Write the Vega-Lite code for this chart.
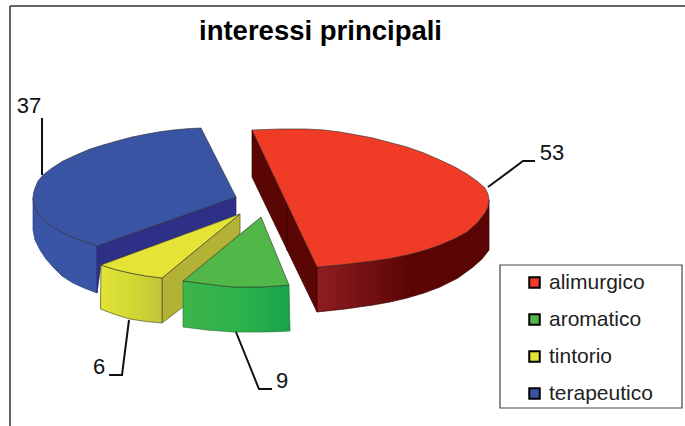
{
"$schema":"https://vega.github.io/schema/vega-lite/v6.json",
"width":685,"height":426,"padding":0,"autosize":"none","background":"white",
"title":{"text":"interessi principali","font":"Liberation Sans","fontSize":27.5,"fontWeight":"bold","color":"#000","anchor":"middle","offset":-45,"dx":-22},
"config":{"view":{"stroke":null},"font":"Liberation Sans"},
"datasets":{
"riepilogo":[
{"interesse":"alimurgico","valore":53,"lx":552,"ly":160},
{"interesse":"aromatico","valore":9,"lx":282,"ly":388},
{"interesse":"tintorio","valore":6,"lx":99,"ly":374},
{"interesse":"terapeutico","valore":37,"lx":29,"ly":113}],
"guide":[
{"interesse":"alimurgico","o":1,"gx":488,"gy":187},{"interesse":"alimurgico","o":2,"gx":523,"gy":161},{"interesse":"alimurgico","o":3,"gx":535,"gy":161},
{"interesse":"aromatico","o":1,"gx":236,"gy":332},{"interesse":"aromatico","o":2,"gx":259,"gy":389},{"interesse":"aromatico","o":3,"gx":272,"gy":389},
{"interesse":"tintorio","o":1,"gx":129,"gy":320},{"interesse":"tintorio","o":2,"gx":122,"gy":375},{"interesse":"tintorio","o":3,"gx":109,"gy":375},
{"interesse":"terapeutico","o":1,"gx":42,"gy":175},{"interesse":"terapeutico","o":2,"gx":42,"gy":118}],
"facce":[
{"f":"blu_lato","o":1,"x":33,"y":198},{"f":"blu_lato","o":2,"x":34,"y":205},{"f":"blu_lato","o":3,"x":37,"y":212},{"f":"blu_lato","o":4,"x":43,"y":219},{"f":"blu_lato","o":5,"x":50,"y":225},{"f":"blu_lato","o":6,"x":58,"y":230},{"f":"blu_lato","o":7,"x":67,"y":235},{"f":"blu_lato","o":8,"x":82,"y":241},{"f":"blu_lato","o":9,"x":97,"y":246},{"f":"blu_lato","o":10,"x":97,"y":293},{"f":"blu_lato","o":11,"x":84,"y":288},{"f":"blu_lato","o":12,"x":73,"y":283},{"f":"blu_lato","o":13,"x":62,"y":276},{"f":"blu_lato","o":14,"x":53,"y":267},{"f":"blu_lato","o":15,"x":46,"y":259},{"f":"blu_lato","o":16,"x":40,"y":250},{"f":"blu_lato","o":17,"x":35,"y":240},{"f":"blu_lato","o":18,"x":33,"y":230},
{"f":"blu_int","o":1,"x":97,"y":246},{"f":"blu_int","o":2,"x":236,"y":197},{"f":"blu_int","o":3,"x":236,"y":215},{"f":"blu_int","o":4,"x":101,"y":265},{"f":"blu_int","o":5,"x":97,"y":293},
{"f":"gia_lato","o":1,"x":162,"y":278},{"f":"gia_lato","o":2,"x":240,"y":214},{"f":"gia_lato","o":3,"x":240,"y":233},{"f":"gia_lato","o":4,"x":183,"y":307},{"f":"gia_lato","o":5,"x":162,"y":323},
{"f":"gia_fronte","o":1,"x":101,"y":265},{"f":"gia_fronte","o":2,"x":115,"y":269.5},{"f":"gia_fronte","o":3,"x":130,"y":273},{"f":"gia_fronte","o":4,"x":146,"y":276},{"f":"gia_fronte","o":5,"x":162,"y":278},{"f":"gia_fronte","o":6,"x":162,"y":323},{"f":"gia_fronte","o":7,"x":146,"y":321.5},{"f":"gia_fronte","o":8,"x":130,"y":319},{"f":"gia_fronte","o":9,"x":115,"y":314.5},{"f":"gia_fronte","o":10,"x":100.5,"y":309},
{"f":"ver_fronte","o":1,"x":183,"y":281},{"f":"ver_fronte","o":2,"x":195,"y":282.5},{"f":"ver_fronte","o":3,"x":207,"y":284},{"f":"ver_fronte","o":4,"x":220,"y":285.7},{"f":"ver_fronte","o":5,"x":233,"y":287},{"f":"ver_fronte","o":6,"x":248,"y":287},{"f":"ver_fronte","o":7,"x":263,"y":287},{"f":"ver_fronte","o":8,"x":276,"y":286},{"f":"ver_fronte","o":9,"x":289,"y":285},{"f":"ver_fronte","o":10,"x":290,"y":331},{"f":"ver_fronte","o":11,"x":276,"y":331.7},{"f":"ver_fronte","o":12,"x":263,"y":332},{"f":"ver_fronte","o":13,"x":248,"y":332},{"f":"ver_fronte","o":14,"x":233,"y":332},{"f":"ver_fronte","o":15,"x":220,"y":331},{"f":"ver_fronte","o":16,"x":207,"y":330},{"f":"ver_fronte","o":17,"x":195,"y":328.5},{"f":"ver_fronte","o":18,"x":183,"y":327},
{"f":"ros_int","o":1,"x":252,"y":130},{"f":"ros_int","o":2,"x":317,"y":267},{"f":"ros_int","o":3,"x":317,"y":312},{"f":"ros_int","o":4,"x":252,"y":177},
{"f":"ros_lato","o":1,"x":489,"y":200},{"f":"ros_lato","o":2,"x":488,"y":207},{"f":"ros_lato","o":3,"x":485,"y":213},{"f":"ros_lato","o":4,"x":477,"y":223},{"f":"ros_lato","o":5,"x":467,"y":232},{"f":"ros_lato","o":6,"x":454,"y":239},{"f":"ros_lato","o":7,"x":440,"y":245},{"f":"ros_lato","o":8,"x":424,"y":250.5},{"f":"ros_lato","o":9,"x":407,"y":255},{"f":"ros_lato","o":10,"x":390,"y":258.5},{"f":"ros_lato","o":11,"x":373,"y":261},{"f":"ros_lato","o":12,"x":356,"y":263},{"f":"ros_lato","o":13,"x":340,"y":265},{"f":"ros_lato","o":14,"x":317,"y":267},{"f":"ros_lato","o":15,"x":317,"y":312},{"f":"ros_lato","o":16,"x":345,"y":309},{"f":"ros_lato","o":17,"x":373,"y":305},{"f":"ros_lato","o":18,"x":390,"y":302},{"f":"ros_lato","o":19,"x":407,"y":298},{"f":"ros_lato","o":20,"x":424,"y":293},{"f":"ros_lato","o":21,"x":440,"y":287},{"f":"ros_lato","o":22,"x":458,"y":278},{"f":"ros_lato","o":23,"x":473,"y":267},{"f":"ros_lato","o":24,"x":482,"y":259},{"f":"ros_lato","o":25,"x":489,"y":250},
{"f":"ros_seam","o":1,"x":287,"y":205},{"f":"ros_seam","o":2,"x":287,"y":251}],
"sopra":[
{"interesse":"alimurgico","o":1,"x":252,"y":130},{"interesse":"alimurgico","o":2,"x":280,"y":129},{"interesse":"alimurgico","o":3,"x":307,"y":129},{"interesse":"alimurgico","o":4,"x":324,"y":130},{"interesse":"alimurgico","o":5,"x":340,"y":132},{"interesse":"alimurgico","o":6,"x":357,"y":135},{"interesse":"alimurgico","o":7,"x":373,"y":138},{"interesse":"alimurgico","o":8,"x":390,"y":142.5},{"interesse":"alimurgico","o":9,"x":407,"y":147},{"interesse":"alimurgico","o":10,"x":424,"y":153},{"interesse":"alimurgico","o":11,"x":440,"y":160},{"interesse":"alimurgico","o":12,"x":454,"y":166.5},{"interesse":"alimurgico","o":13,"x":467,"y":174},{"interesse":"alimurgico","o":14,"x":477,"y":181},{"interesse":"alimurgico","o":15,"x":485,"y":188},{"interesse":"alimurgico","o":16,"x":488,"y":194},{"interesse":"alimurgico","o":17,"x":489,"y":200},{"interesse":"alimurgico","o":18,"x":488,"y":207},{"interesse":"alimurgico","o":19,"x":485,"y":213},{"interesse":"alimurgico","o":20,"x":477,"y":223},{"interesse":"alimurgico","o":21,"x":467,"y":232},{"interesse":"alimurgico","o":22,"x":454,"y":239},{"interesse":"alimurgico","o":23,"x":440,"y":245},{"interesse":"alimurgico","o":24,"x":424,"y":250.5},{"interesse":"alimurgico","o":25,"x":407,"y":255},{"interesse":"alimurgico","o":26,"x":390,"y":258.5},{"interesse":"alimurgico","o":27,"x":373,"y":261},{"interesse":"alimurgico","o":28,"x":356,"y":263},{"interesse":"alimurgico","o":29,"x":340,"y":265},{"interesse":"alimurgico","o":30,"x":317,"y":267},
{"interesse":"aromatico","o":1,"x":261,"y":217},{"interesse":"aromatico","o":2,"x":289,"y":285},{"interesse":"aromatico","o":3,"x":276,"y":286},{"interesse":"aromatico","o":4,"x":263,"y":287},{"interesse":"aromatico","o":5,"x":248,"y":287},{"interesse":"aromatico","o":6,"x":233,"y":287},{"interesse":"aromatico","o":7,"x":220,"y":285.7},{"interesse":"aromatico","o":8,"x":207,"y":284},{"interesse":"aromatico","o":9,"x":195,"y":282.5},{"interesse":"aromatico","o":10,"x":183,"y":281},
{"interesse":"tintorio","o":1,"x":240,"y":214},{"interesse":"tintorio","o":2,"x":162,"y":278},{"interesse":"tintorio","o":3,"x":146,"y":276},{"interesse":"tintorio","o":4,"x":130,"y":273},{"interesse":"tintorio","o":5,"x":115,"y":269.5},{"interesse":"tintorio","o":6,"x":101,"y":265},
{"interesse":"terapeutico","o":1,"x":236,"y":197},{"interesse":"terapeutico","o":2,"x":201,"y":128},{"interesse":"terapeutico","o":3,"x":187,"y":128.7},{"interesse":"terapeutico","o":4,"x":173,"y":130},{"interesse":"terapeutico","o":5,"x":160,"y":131.7},{"interesse":"terapeutico","o":6,"x":147,"y":134},{"interesse":"terapeutico","o":7,"x":132,"y":137},{"interesse":"terapeutico","o":8,"x":117,"y":141},{"interesse":"terapeutico","o":9,"x":103,"y":145},{"interesse":"terapeutico","o":10,"x":90,"y":149},{"interesse":"terapeutico","o":11,"x":76,"y":155},{"interesse":"terapeutico","o":12,"x":63,"y":161},{"interesse":"terapeutico","o":13,"x":52,"y":168},{"interesse":"terapeutico","o":14,"x":43,"y":175},{"interesse":"terapeutico","o":15,"x":38,"y":181},{"interesse":"terapeutico","o":16,"x":35,"y":188},{"interesse":"terapeutico","o":17,"x":33.5,"y":193},{"interesse":"terapeutico","o":18,"x":33,"y":198},{"interesse":"terapeutico","o":19,"x":34,"y":205},{"interesse":"terapeutico","o":20,"x":37,"y":212},{"interesse":"terapeutico","o":21,"x":43,"y":219},{"interesse":"terapeutico","o":22,"x":50,"y":225},{"interesse":"terapeutico","o":23,"x":58,"y":230},{"interesse":"terapeutico","o":24,"x":67,"y":235},{"interesse":"terapeutico","o":25,"x":82,"y":241},{"interesse":"terapeutico","o":26,"x":97,"y":246}]
},
"layer":[
{"data":{"values":[{"x":10,"y":6,"y2":426}]},"mark":{"type":"rule","color":"#333","strokeWidth":1.5},"encoding":{"x":{"field":"x","type":"quantitative","scale":{"domain":[0,685],"nice":false,"zero":false},"axis":null},"y":{"field":"y","type":"quantitative","scale":{"domain":[426,0],"nice":false,"zero":false},"axis":null},"y2":{"field":"y2"}}},
{"data":{"values":[{"x":10,"x2":685,"y":6}]},"mark":{"type":"rule","color":"#333","strokeWidth":1.5},"encoding":{"x":{"field":"x","type":"quantitative","axis":null},"x2":{"field":"x2"},"y":{"field":"y","type":"quantitative","axis":null}}},
{"data":{"values":[{"x":500,"x2":682,"y":265,"y2":408}]},"mark":{"type":"rect","fill":"white","stroke":"#444","strokeWidth":1.2},"encoding":{"x":{"field":"x","type":"quantitative","axis":null},"x2":{"field":"x2"},"y":{"field":"y","type":"quantitative","axis":null},"y2":{"field":"y2"}}},
{"data":{"name":"facce"},"transform":[{"filter":{"field":"f","equal":"blu_lato"}}],"mark":{"type":"line","interpolate":"linear-closed","filled":true,"fill":"#3a55a5","stroke":"#2b3f85","strokeWidth":0.7},"encoding":{"x":{"field":"x","type":"quantitative","axis":null},"y":{"field":"y","type":"quantitative","axis":null},"order":{"field":"o"}}},
{"data":{"name":"facce"},"transform":[{"filter":{"field":"f","equal":"blu_int"}}],"mark":{"type":"line","interpolate":"linear-closed","filled":true,"fill":"#2e3088","stroke":"#262870","strokeWidth":0.7},"encoding":{"x":{"field":"x","type":"quantitative","axis":null},"y":{"field":"y","type":"quantitative","axis":null},"order":{"field":"o"}}},
{"data":{"name":"facce"},"transform":[{"filter":{"field":"f","equal":"gia_lato"}}],"mark":{"type":"line","interpolate":"linear-closed","filled":true,"fill":"#b3b136","stroke":"#55551f","strokeWidth":0.7},"encoding":{"x":{"field":"x","type":"quantitative","axis":null},"y":{"field":"y","type":"quantitative","axis":null},"order":{"field":"o"}}},
{"data":{"name":"facce"},"transform":[{"filter":{"field":"f","equal":"gia_fronte"}}],"mark":{"type":"line","interpolate":"linear-closed","filled":true,"fill":{"gradient":"linear","x1":0,"y1":0,"x2":1,"y2":0,"stops":[{"offset":0,"color":"#e2e338"},{"offset":0.5,"color":"#d0d933"},{"offset":1,"color":"#c4c439"}]},"stroke":"#55551f","strokeWidth":0.7},"encoding":{"x":{"field":"x","type":"quantitative","axis":null},"y":{"field":"y","type":"quantitative","axis":null},"order":{"field":"o"}}},
{"data":{"name":"facce"},"transform":[{"filter":{"field":"f","equal":"ver_fronte"}}],"mark":{"type":"line","interpolate":"linear-closed","filled":true,"fill":{"gradient":"linear","x1":0,"y1":0,"x2":1,"y2":0,"stops":[{"offset":0,"color":"#3cb54a"},{"offset":0.6,"color":"#2cb24c"},{"offset":1,"color":"#17a24b"}]},"stroke":"#1f6b33","strokeWidth":0.6},"encoding":{"x":{"field":"x","type":"quantitative","axis":null},"y":{"field":"y","type":"quantitative","axis":null},"order":{"field":"o"}}},
{"data":{"name":"facce"},"transform":[{"filter":{"field":"f","equal":"ros_int"}}],"mark":{"type":"line","interpolate":"linear-closed","filled":true,"fill":"#5a0605","stroke":"#3a0303","strokeWidth":0.7},"encoding":{"x":{"field":"x","type":"quantitative","axis":null},"y":{"field":"y","type":"quantitative","axis":null},"order":{"field":"o"}}},
{"data":{"name":"facce"},"transform":[{"filter":{"field":"f","equal":"ros_seam"}}],"mark":{"type":"line","stroke":"#2e0202","strokeWidth":0.7},"encoding":{"x":{"field":"x","type":"quantitative","axis":null},"y":{"field":"y","type":"quantitative","axis":null},"order":{"field":"o"}}},
{"data":{"name":"facce"},"transform":[{"filter":{"field":"f","equal":"ros_lato"}}],"mark":{"type":"line","interpolate":"linear-closed","filled":true,"fill":{"gradient":"linear","x1":0,"y1":0,"x2":1,"y2":0,"stops":[{"offset":0,"color":"#8f1d20"},{"offset":0.25,"color":"#761214"},{"offset":0.55,"color":"#5b0504"},{"offset":1,"color":"#5a0504"}]},"stroke":"#3a0303","strokeWidth":0.7},"encoding":{"x":{"field":"x","type":"quantitative","axis":null},"y":{"field":"y","type":"quantitative","axis":null},"order":{"field":"o"}}},
{"data":{"name":"sopra"},"mark":{"type":"line","interpolate":"linear-closed","filled":true,"stroke":"#2a2a2a","strokeWidth":0.6},"encoding":{"x":{"field":"x","type":"quantitative","axis":null},"y":{"field":"y","type":"quantitative","axis":null},"order":{"field":"o"},"detail":{"field":"interesse"},
"fill":{"field":"interesse","type":"nominal","title":null,"scale":{"domain":["alimurgico","aromatico","tintorio","terapeutico"],"range":["#f03c26","#52b749","#e5e336","#3a54a4"]},
"legend":{"orient":"none","legendX":524,"legendY":272,"padding":0,"zindex":2,"symbolType":"square","symbolSize":110,"symbolStrokeColor":"#000","symbolStrokeWidth":2,"symbolOpacity":1,"labelFont":"Liberation Sans","labelFontSize":21,"labelColor":"#222","labelOffset":4,"rowPadding":15,"symbolOffset":0}}}},
{"data":{"name":"guide"},"mark":{"type":"line","stroke":"#111","strokeWidth":2},"encoding":{"x":{"field":"gx","type":"quantitative","axis":null},"y":{"field":"gy","type":"quantitative","axis":null},"order":{"field":"o"},"detail":{"field":"interesse"}}},
{"data":{"name":"riepilogo"},"mark":{"type":"text","font":"Liberation Sans","fontSize":22,"color":"#111","align":"center","baseline":"alphabetic"},"encoding":{"x":{"field":"lx","type":"quantitative","axis":null},"y":{"field":"ly","type":"quantitative","axis":null},"text":{"field":"valore","type":"quantitative"}}}
]
}
